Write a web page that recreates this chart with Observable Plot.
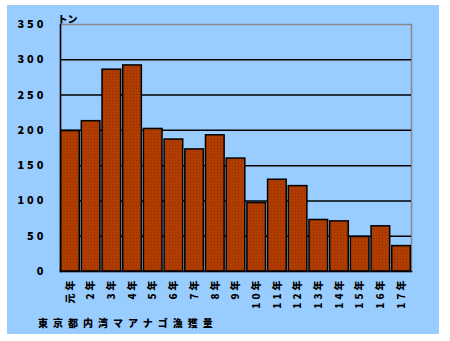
<!DOCTYPE html>
<html><head><meta charset="utf-8">
<script src="https://cdn.jsdelivr.net/npm/d3@7"></script>
<script src="https://cdn.jsdelivr.net/npm/@observablehq/plot@0.6"></script>
<style>
body{margin:0;background:#fff;width:450px;height:341px;overflow:hidden;position:relative;font-family:"Noto Sans CJK JP",sans-serif;}
#panel{position:absolute;left:7px;top:5px;width:432px;height:329px;background:#99ccff;}
#chart{position:absolute;left:0;top:0;}
#cap{position:absolute;left:38px;top:316px;font-size:10px;font-weight:900;letter-spacing:5px;line-height:14px;white-space:nowrap;}
#chart [aria-label="y-axis tick label"] text{letter-spacing:3px;}
#chart [aria-label="x-axis tick label"] text{letter-spacing:3px;}
</style></head><body>
<div id="panel"></div><div id="chart"></div><div id="cap"></div>
<script>
const years = ["元年","2年","3年","4年","5年","6年","7年","8年","9年","10年","11年","12年","13年","14年","15年","16年","17年"];
const catchTons = [199, 213, 286, 292, 202, 187, 173, 193, 160, 97, 130, 121, 73, 71, 49, 64, 36];
const yTicks = [0, 50, 100, 150, 200, 250, 300, 350];
const unitLabel = "トン";
const captionText = "東京都内湾マアナゴ漁獲量";

const data = years.map((y, i) => ({year: y, value: catchTons[i]}));

const chart = Plot.plot({
  width: 450, height: 341,
  marginLeft: 60, marginRight: 39, marginTop: 24, marginBottom: 70,
  style: {background: "transparent", fontFamily: "'Noto Sans CJK JP', sans-serif", fontWeight: "900", color: "#000"},
  x: {domain: years, paddingInner: 0.1, paddingOuter: 0.03, round: false, label: null},
  y: {domain: [0, 350], label: null},
  marks: [
    Plot.frame({stroke: "#888", strokeWidth: 1.5}),
    Plot.ruleY(yTicks.filter(d => d > 0 && d < 350), {stroke: "#000", strokeWidth: 1.5}),
    Plot.barY(data, {x: "year", y: "value", fill: "url(#dots)", stroke: "#000", strokeWidth: 1.5}),
    Plot.frame({anchor: "left", stroke: "#000", strokeWidth: 1.5}),
    Plot.frame({anchor: "bottom", stroke: "#000", strokeWidth: 1.5}),
    Plot.axisY({ticks: yTicks, tickSize: 0, tickPadding: 14, fontSize: 11, label: null}),
    Plot.axisX({tickRotate: -90, tickSize: 0, tickPadding: 6, fontSize: 10, label: null}),
    Plot.text([unitLabel], {frameAnchor: "top-left", textAnchor: "start", dx: -3, dy: -9, fontSize: 10, fontWeight: "900"})
  ]
});

const svg = d3.select(chart);
const defs = svg.insert("defs", ":first-child");
const pat = defs.append("pattern").attr("id", "dots").attr("patternUnits", "userSpaceOnUse").attr("width", 3).attr("height", 3);
pat.append("rect").attr("width", 3).attr("height", 3).attr("fill", "#b03c00");
pat.append("rect").attr("x", 1).attr("y", 1).attr("width", 1).attr("height", 1).attr("fill", "#8c3000");

document.getElementById("chart").appendChild(chart);
document.getElementById("cap").textContent = captionText;
</script>
</body></html>
